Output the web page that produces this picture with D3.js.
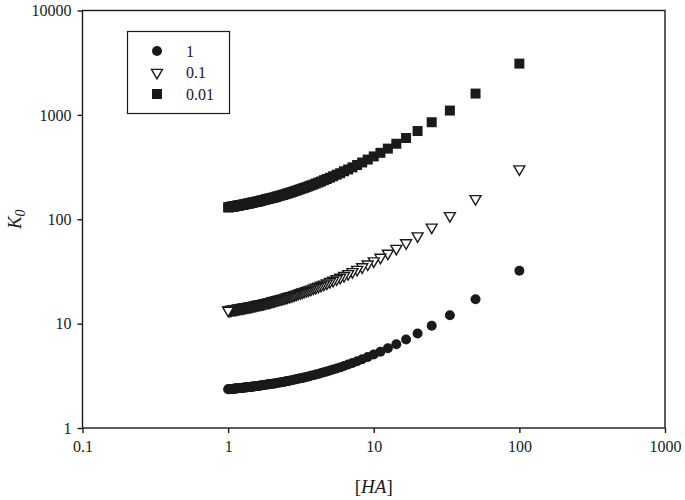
<!DOCTYPE html>
<html><head><meta charset="utf-8">
<script src="https://cdn.jsdelivr.net/npm/d3@7"></script>
<style>body{margin:0;background:#fff}svg{display:block}</style>
</head><body>
<script>
const HA = [100,50,33.33,25,20,16.67,14.29,12.5,11.11,10,9.09,8.33,7.69,7.14,6.67,6.25,5.88,5.56,5.26,5,
4.76,4.55,4.35,4.17,4,3.85,3.70,3.57,3.45,3.33,3.23,3.13,3.03,2.94,2.86,2.78,2.70,2.63,2.56,2.5,
2.44,2.38,2.33,2.27,2.22,2.17,2.13,2.08,2.04,2,1.96,1.92,1.89,1.85,1.82,1.79,1.75,1.72,1.69,1.67,
1.64,1.61,1.59,1.56,1.54,1.52,1.49,1.47,1.45,1.43,1.41,1.39,1.37,1.35,1.33,1.32,1.30,1.28,1.27,1.25,
1.23,1.22,1.20,1.19,1.18,1.16,1.15,1.14,1.12,1.11,1.10,1.09,1.08,1.06,1.05,1.04,1.03,1.02,1.01,1];
const K_1 = [32.1,17.1,12.05,9.55,8.05,7.05,6.34,5.8,5.38,5.05,4.78,4.55,4.36,4.19,4.05,3.93,3.81,3.72,3.63,3.55,
3.48,3.42,3.36,3.30,3.25,3.21,3.16,3.12,3.09,3.05,3.02,2.99,2.96,2.93,2.91,2.88,2.86,2.84,2.82,2.80,
2.78,2.76,2.75,2.73,2.72,2.70,2.69,2.67,2.66,2.65,2.64,2.63,2.62,2.61,2.60,2.59,2.58,2.57,2.56,2.55,
2.54,2.53,2.53,2.52,2.51,2.51,2.50,2.49,2.49,2.48,2.47,2.47,2.46,2.46,2.45,2.45,2.44,2.43,2.43,2.43,
2.42,2.42,2.41,2.41,2.40,2.40,2.40,2.39,2.39,2.38,2.38,2.38,2.37,2.37,2.37,2.36,2.36,2.36,2.35,2.35];
const K_01 = [303,157,108,83.8,69.1,59.3,52.4,47.1,43.1,39.8,37.1,34.9,33.0,31.4,30.0,28.8,27.7,26.8,25.9,25.2,
24.4,23.8,23.2,22.7,22.2,21.8,21.3,21.0,20.6,20.3,20.0,19.7,19.4,19.1,18.9,18.6,18.4,18.2,18.0,17.8,
17.6,17.5,17.3,17.2,17.0,16.9,16.7,16.6,16.5,16.4,16.2,16.1,16.0,15.9,15.8,15.7,15.6,15.5,15.5,15.4,
15.3,15.2,15.2,15.1,15.0,15.0,14.9,14.8,14.7,14.7,14.6,14.6,14.5,14.5,14.4,14.4,14.3,14.3,14.2,14.2,
14.1,14.1,14.0,14.0,14.0,13.9,13.9,13.8,13.8,13.8,13.7,13.7,13.7,13.6,13.6,13.5,13.5,13.5,13.5,13.4];
const K_001 = [3100,1600,1100,850,700,600,529,475,433,400,373,350,331,314,300,288,276,267,258,250,
243,237,230,225,220,215,211,207,203,200,197,194,191,188,186,183,181,179,177,175,
173,171,170,168,167,165,164,162,161,160,159,158,157,156,155,154,153,152,151,150,
149,148,148,147,146,146,145,144,144,143,142,142,141,141,140,140,139,138,138,138,
137,137,136,136,135,135,135,134,134,133,133,133,132,132,132,131,131,131,130,130];
const seriesNames = ["1","0.1","0.01"];
const xTicks = [0.1,1,10,100,1000];
const yTicks = [1,10,100,1000,10000];

const W=685,H=500;
const svg=d3.select("body").append("svg").attr("width",W).attr("height",H);
const L=82.5,R=665,T=10.5,B=428;
const x=d3.scaleLog().domain([0.1,1000]).range([L,R]);
const y=d3.scaleLog().domain([1,10000]).range([B,T]);
const font="'Liberation Serif','Times New Roman',serif";
const ink="#1a1a1a";

// frame
svg.append("rect").attr("x",L).attr("y",T).attr("width",R-L).attr("height",B-T)
  .attr("fill","none").attr("stroke",ink).attr("stroke-width",1.4);

const xa=svg.append("g").attr("transform",`translate(0,${B})`)
  .call(d3.axisBottom(x).tickValues(xTicks).tickFormat(d=>String(d)).tickSize(5).tickPadding(8));
const ya=svg.append("g").attr("transform",`translate(${L},0)`)
  .call(d3.axisLeft(y).tickValues(yTicks).tickFormat(d=>String(d)).tickSize(5).tickPadding(6));
[xa,ya].forEach(a=>{
  a.select(".domain").remove();
  a.selectAll("line").attr("stroke",ink).attr("stroke-width",1.4);
  a.selectAll("text").attr("font-family",font).attr("font-size",16).attr("fill",ink);
});

const data=[K_1,K_01,K_001];
const sym=[d3.symbolCircle,d3.symbolTriangle,d3.symbolSquare];
const sizes=[78,52,100];
data.forEach((vals,si)=>{
  const g=svg.append("g");
  HA.forEach((h,i)=>{
    const p=g.append("path")
      .attr("d",d3.symbol().type(sym[si]).size(sizes[si])())
      .attr("transform",`translate(${x(h)},${y(vals[i])})`+(si===1?" rotate(180)":""));
    if(si===1) p.attr("fill","#fff").attr("stroke",ink).attr("stroke-width",1.4);
    else p.attr("fill",ink);
  });
});

// legend
svg.append("rect").attr("x",127.5).attr("y",31.5).attr("width",102).attr("height",82)
  .attr("fill","#fff").attr("stroke",ink).attr("stroke-width",1.2);
seriesNames.forEach((n,i)=>{
  const cy=51+i*21.5;
  const p=svg.append("path").attr("d",d3.symbol().type(sym[i]).size(sizes[i])())
    .attr("transform",`translate(157,${cy})`+(i===1?" rotate(180)":""));
  if(i===1) p.attr("fill","#fff").attr("stroke",ink).attr("stroke-width",1.4); else p.attr("fill",ink);
  svg.append("text").attr("x",186).attr("y",cy+5.5).attr("font-family",font).attr("font-size",16)
    .attr("fill",ink).text(n);
});

// axis titles
const xt=svg.append("text").attr("x",(L+R)/2).attr("y",493).attr("text-anchor","middle")
  .attr("font-family",font).attr("font-size",19).attr("fill",ink);
xt.append("tspan").text("[");
xt.append("tspan").attr("font-style","italic").text("HA");
xt.append("tspan").text("]");
const yt=svg.append("text").attr("transform",`translate(21,${(T+B)/2}) rotate(-90)`).attr("text-anchor","middle")
  .attr("font-family",font).attr("font-size",19).attr("fill",ink).attr("font-style","italic");
yt.append("tspan").text("K");
yt.append("tspan").attr("font-size",14).attr("dy",4).text("0");
</script>
</body></html>
